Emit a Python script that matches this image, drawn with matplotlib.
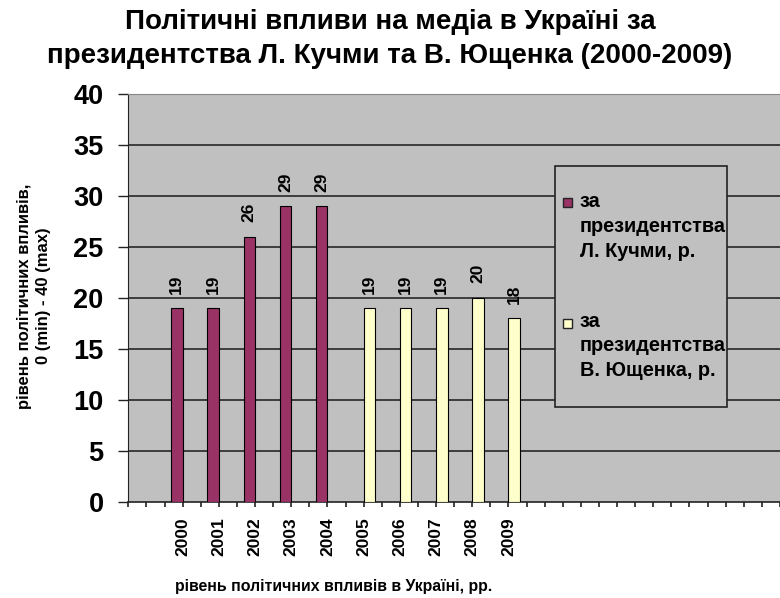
import matplotlib
matplotlib.use("Agg")
import matplotlib.pyplot as plt
from matplotlib.patches import Rectangle
import numpy as np

plt.rcParams['font.family'] = ['Liberation Sans', 'DejaVu Sans']
plt.rcParams['font.weight'] = 'bold'

# ---- data ----
years_kuchma = ['2000', '2001', '2002', '2003', '2004']
values_kuchma = [19, 19, 26, 29, 29]
years_yushchenko = ['2005', '2006', '2007', '2008', '2009']
values_yushchenko = [19, 19, 19, 20, 18]
all_years = years_kuchma + years_yushchenko
series_labels = ['за\nпрезидентства\nЛ. Кучми, р.', 'за\nпрезидентства\nВ. Ющенка, р.']
title = 'Політичні впливи на медіа в Україні за\nпрезидентства Л. Кучми та В. Ющенка (2000-2009)'
ylabel = 'рівень політичних впливів,\n0 (min) - 40 (max)'
xlabel = 'рівень політичних впливів в Україні, рр.'
yticks = [0, 5, 10, 15, 20, 25, 30, 35, 40]

c_k = '#993366'
c_y = '#FFFFCC'
bg = '#C0C0C0'

W, H = 780, 598
fig = plt.figure(figsize=(W / 100, H / 100), dpi=100)
ax = fig.add_axes([128.3 / W, (H - 501.5) / H, 651.7 / W, 407.0 / H])
ax.set_facecolor(bg)

n_cat = 18
first = -1.5
ax.set_xlim(first, first + n_cat)
ax.set_ylim(0, 40)

bw = 0.318
pos_k = np.array([all_years.index(y) for y in years_kuchma])
pos_y = np.array([all_years.index(y) for y in years_yushchenko])

for v in yticks[1:-1]:
    ax.axhline(v, color='#1a1a1a', lw=1.1, zorder=1)

bars_k = ax.bar(pos_k - bw / 2, values_kuchma, width=bw, color=c_k, edgecolor='black', linewidth=0.8, zorder=3)
bars_y = ax.bar(pos_y + bw / 2, values_yushchenko, width=bw, color=c_y, edgecolor='black', linewidth=0.8, zorder=3)

for bars, vals in ((bars_k, values_kuchma), (bars_y, values_yushchenko)):
    for b, v in zip(bars, vals):
        ax.annotate(str(v), (b.get_x() + b.get_width() / 2, v), xytext=(0, 10.5),
                    textcoords='offset points', rotation=90, ha='center', va='bottom',
                    fontsize=12.5, fontweight='bold')

# axes
ax.set_yticks(yticks)
ax.set_yticklabels([str(t) for t in yticks], fontsize=19.5, fontweight='bold')
ax.tick_params(axis='y', direction='out', length=7.2, width=1, pad=10.5, color='#222222')

major = np.arange(-1, 17)
labels = ['' for _ in major]
for i, y in enumerate(all_years):
    labels[i + 1] = y
ax.set_xticks(major)
ax.set_xticklabels(labels, rotation=90, fontsize=12.5, fontweight='bold', va='top')
ax.set_xticks(np.arange(-1.5, 16.6, 1.0), minor=True)
ax.tick_params(axis='x', which='both', direction='out', length=3.6, width=1.2, pad=8, color='#222222')

ax.spines['right'].set_visible(False)
ax.spines['top'].set_color('#888888')
ax.spines['left'].set_color('#222222')
ax.spines['bottom'].set_color('#222222')
ax.spines['bottom'].set_linewidth(1.2)

# title and axis labels
fig.text(0.5, 1 - 9 / H, title, ha='center', va='top', fontsize=20.0, fontweight='bold', linespacing=1.42)
fig.text(34 / W, 1 - 296 / H, ylabel, rotation=90, ha='center', va='center', fontsize=12,
         fontweight='bold', multialignment='center', linespacing=1.35)
fig.text(175 / W, 1 - 586 / H, xlabel, ha='left', va='center', fontsize=11.4, fontweight='bold')

# legend box (manual, to match the reference layout)
lx0, ly0, lx1, ly1 = 555, 166, 727, 407
fig.add_artist(Rectangle((lx0 / W, 1 - ly1 / H), (lx1 - lx0) / W, (ly1 - ly0) / H,
                         transform=fig.transFigure, facecolor=bg, edgecolor='#222222', lw=1.2, zorder=5))
for (cy, last_baseline), col, lab in zip(((202.5, 256.7), (323.5, 376)), (c_k, c_y), series_labels):
    s = 9
    fig.add_artist(Rectangle(((567.5 - s / 2) / W, 1 - (cy + s / 2) / H), s / W, s / H,
                             transform=fig.transFigure, facecolor=col, edgecolor='#222222', lw=1, zorder=6))
    fig.text(580 / W, 1 - last_baseline / H, lab, ha='left', va='baseline', fontsize=14.3,
             fontweight='bold', linespacing=1.38, zorder=7)

fig.savefig('out.png', dpi=100, facecolor='white')
